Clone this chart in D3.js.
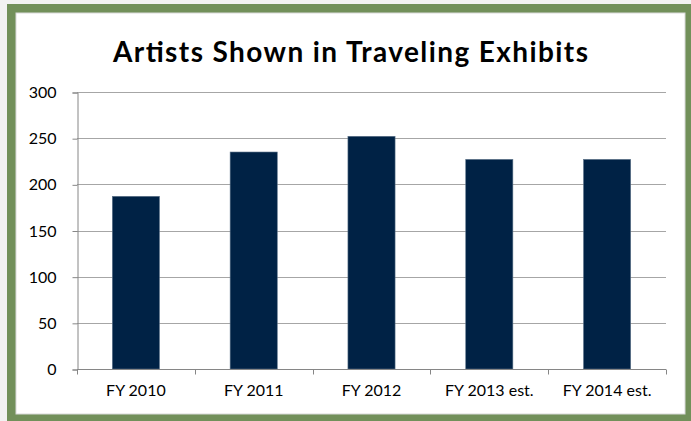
<!DOCTYPE html>
<html><head><meta charset="utf-8">
<script src="https://cdn.jsdelivr.net/npm/d3@7"></script>
<style>html,body{margin:0;padding:0;background:#f2f2f2;}svg{display:block;}</style>
</head><body>
<script>
const categories = ["FY 2010", "FY 2011", "FY 2012", "FY 2013 est.", "FY 2014 est."];
const values = [187, 235, 252, 227, 227];
const yTicks = [0, 50, 100, 150, 200, 250, 300];
const title = "Artists Shown in Traveling Exhibits";

const W = 691, H = 421;
const svg = d3.select("body").append("svg").attr("width", W).attr("height", H);
svg.append("rect").attr("x", 7).attr("y", 4).attr("width", W - 7).attr("height", H - 4).attr("fill", "#72905a");
svg.append("rect").attr("x", 16).attr("y", 13).attr("width", 669).attr("height", 401).attr("fill", "#ffffff").attr("stroke", "#d9d9d9").attr("stroke-width", 1);

const font = "Lato, 'Open Sans', sans-serif";
svg.append("text").attr("x", 350.5).attr("y", 62).attr("text-anchor", "middle")
  .attr("font-family", font).attr("font-weight", "bold").attr("font-size", 28).attr("fill", "#000")
  .attr("textLength", 475).attr("lengthAdjust", "spacing")
  .text(title);

const x0 = 77, x1 = 666, yTop = 92, yBot = 369;
const x = d3.scaleBand().domain(categories).range([x0, x1]).paddingInner(0.6).paddingOuter(0.3);
const y = d3.scaleLinear().domain([0, 300]).range([yBot, yTop]);

const g = svg.append("g");
// gridlines
g.selectAll("line.grid").data(yTicks.filter(d => d > 0)).enter().append("line")
  .attr("x1", x0).attr("x2", x1).attr("y1", d => Math.round(y(d)) + 0.5).attr("y2", d => Math.round(y(d)) + 0.5)
  .attr("stroke", "#a6a6a6").attr("stroke-width", 1);

// bars
g.selectAll("rect.bar").data(values).enter().append("rect")
  .attr("x", (d, i) => x(categories[i])).attr("width", x.bandwidth())
  .attr("y", d => y(d)).attr("height", d => yBot - y(d))
  .attr("fill", "#002245").attr("stroke", "#5a7188").attr("stroke-width", 0.6);

// y axis
const yAxis = d3.axisLeft(y).tickValues(yTicks).tickSize(5).tickPadding(16);
const ya = svg.append("g").attr("transform", `translate(${x0 + 0.5},0.5)`).call(yAxis);
ya.select(".domain").attr("stroke", "#868686");
ya.selectAll(".tick line").attr("stroke", "#868686");
ya.selectAll("text").attr("font-family", font).attr("font-size", 16).attr("fill", "#000");

// x axis
const xEdges = d3.range(categories.length + 1).map(i => x0 + i * (x1 - x0) / categories.length);
const xa = svg.append("g").attr("transform", `translate(0,${yBot + 0.5})`);
xa.append("line").attr("x1", x0).attr("x2", x1).attr("stroke", "#868686");
xa.selectAll("line.t").data(xEdges).enter().append("line")
  .attr("x1", d => Math.round(d) + 0.5).attr("x2", d => Math.round(d) + 0.5).attr("y1", 0).attr("y2", 5).attr("stroke", "#868686");
const xAxis = d3.axisBottom(x).tickSize(0).tickPadding(16);
const xb = svg.append("g").attr("transform", `translate(0,${yBot})`).call(xAxis);
xb.select(".domain").remove();
xb.selectAll("text").attr("font-family", font).attr("font-size", 16).attr("fill", "#000");
</script>
</body></html>
